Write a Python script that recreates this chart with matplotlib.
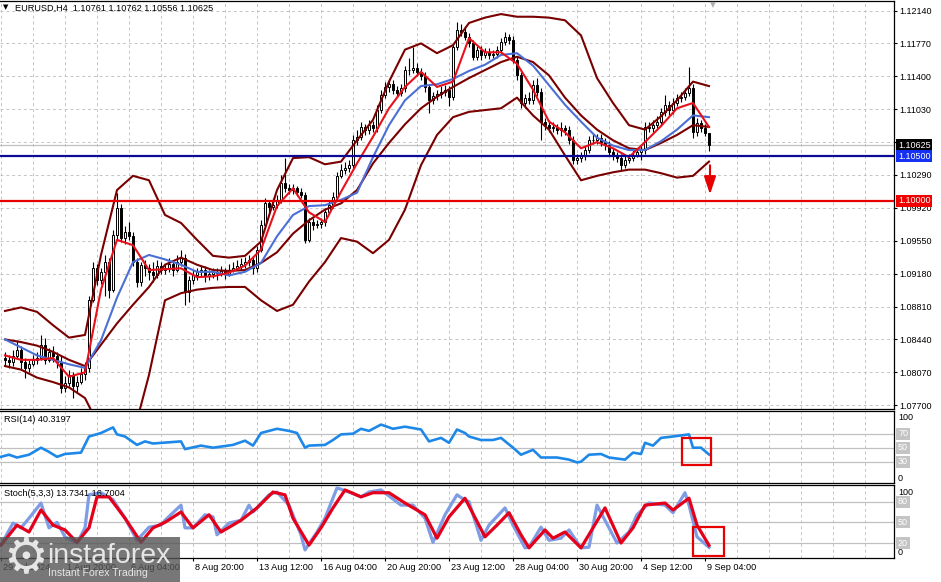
import numpy as np
import matplotlib
matplotlib.use("Agg")
from matplotlib import pyplot as plt
from matplotlib import transforms as mtransforms
from matplotlib.patches import Rectangle

plt.rcParams['font.family'] = ['Liberation Sans', 'DejaVu Sans']

# EURUSD H4 candles, 29 Jul - 9 Sep 2024 (open of each bar = previous close)
first_open = 1.08231
close = [
    1.08208, 1.08186, 1.08253, 1.08321, 1.08186, 1.08118, 1.08163, 1.08208, 1.08231, 1.08377,
    1.08208, 1.08298, 1.08253, 1.08186, 1.07893, 1.07949, 1.08039, 1.07916, 1.07961, 1.08051,
    1.08118, 1.08883, 1.09243, 1.09108, 1.09198, 1.09311, 1.08996, 1.09614, 1.09918, 1.09581,
    1.09648, 1.09603, 1.09311, 1.09086, 1.09277, 1.09243, 1.09198, 1.09164, 1.09266, 1.09221,
    1.09243, 1.09288, 1.09221, 1.09311, 1.09356, 1.08973, 1.09108, 1.09164, 1.09198, 1.09221,
    1.09153, 1.09176, 1.09198, 1.09187, 1.09209, 1.09176, 1.09221, 1.09243, 1.09266, 1.09288,
    1.09311, 1.09333, 1.09243, 1.09446, 1.09727, 1.09974, 1.09929, 1.09952, 1.10008, 1.10199,
    1.10143, 1.10121, 1.10143, 1.10098, 1.10064, 1.09558, 1.09761, 1.09727, 1.09738, 1.09761,
    1.09873, 1.09952, 1.10042, 1.10278, 1.10346, 1.10368, 1.10402, 1.10683, 1.10717, 1.10829,
    1.10796, 1.10852, 1.10818, 1.11021, 1.11189, 1.11279, 1.11313, 1.11246, 1.11212, 1.11268,
    1.11471, 1.11471, 1.11493, 1.11448, 1.11403, 1.11279, 1.11133, 1.11178, 1.11201, 1.11223,
    1.11246, 1.11167, 1.11729, 1.11921, 1.11898, 1.11842, 1.11774, 1.11617, 1.11696, 1.11639,
    1.11673, 1.11639, 1.11651, 1.11696, 1.11786, 1.11842, 1.11808, 1.11583, 1.11414, 1.11099,
    1.11156, 1.11133, 1.11302, 1.11223, 1.10886, 1.10852, 1.10818, 1.10829, 1.10796, 1.10818,
    1.10796, 1.10683, 1.10458, 1.10481, 1.10503, 1.10571, 1.10683, 1.10683, 1.10706, 1.10661,
    1.10627, 1.10548, 1.10503, 1.10481, 1.10402, 1.10458, 1.10481, 1.10514, 1.10548, 1.10571,
    1.10829, 1.10818, 1.10852, 1.10886, 1.10998, 1.11077, 1.11021, 1.11099, 1.11156, 1.11167,
    1.11212, 1.11268, 1.10773, 1.10874, 1.10818, 1.10761, 1.10625]
high = [
    1.08298, 1.08264, 1.08321, 1.08433, 1.08366, 1.08231, 1.08208, 1.08264, 1.08298, 1.08489,
    1.08456, 1.08343, 1.08366, 1.08298, 1.08264, 1.08028, 1.08096, 1.08073, 1.08028, 1.08118,
    1.08186, 1.08928, 1.09311, 1.09288, 1.09243, 1.09389, 1.09356, 1.09671, 1.10087, 1.09963,
    1.09716, 1.09761, 1.09648, 1.09356, 1.09311, 1.09333, 1.09288, 1.09311, 1.09333, 1.09311,
    1.09288, 1.09356, 1.09311, 1.09389, 1.09446, 1.09401, 1.09153, 1.09221, 1.09243, 1.09266,
    1.09266, 1.09221, 1.09243, 1.09243, 1.09266, 1.09243, 1.09288, 1.09311, 1.09333, 1.09356,
    1.09367, 1.09389, 1.09378, 1.09491, 1.09783, 1.10031, 1.10008, 1.10031, 1.10064, 1.10289,
    1.10481, 1.10188, 1.10188, 1.10166, 1.10143, 1.10098, 1.09806, 1.09806, 1.09783, 1.09806,
    1.09918, 1.10008, 1.10098, 1.10323, 1.10413, 1.10436, 1.10458, 1.10739, 1.10796, 1.10886,
    1.10863, 1.10908, 1.10897, 1.11077, 1.11246, 1.11336, 1.11358, 1.11358, 1.11291, 1.11313,
    1.11516, 1.11606, 1.11729, 1.11549, 1.11493, 1.11448, 1.11313, 1.11223, 1.11246, 1.11291,
    1.11302, 1.11291, 1.11763, 1.12011, 1.11988, 1.11966, 1.11887, 1.11808, 1.11741, 1.11741,
    1.11718, 1.11718, 1.11696, 1.11741, 1.11831, 1.11898, 1.11876, 1.11853, 1.11628, 1.11448,
    1.11201, 1.11223, 1.11358, 1.11381, 1.11268, 1.10931, 1.10908, 1.10886, 1.10863, 1.10886,
    1.10852, 1.10841, 1.10728, 1.10526, 1.10548, 1.10616, 1.10728, 1.10751, 1.10751, 1.10751,
    1.10706, 1.10672, 1.10593, 1.10548, 1.10526, 1.10503, 1.10526, 1.10571, 1.10593, 1.10627,
    1.10886, 1.10886, 1.10908, 1.10953, 1.11043, 1.11189, 1.11122, 1.11156, 1.11201, 1.11223,
    1.11268, 1.11504, 1.11313, 1.10931, 1.10908, 1.10863, 1.10762]
low = [
    1.08141, 1.08118, 1.08141, 1.08231, 1.08096, 1.08006, 1.08073, 1.08141, 1.08163, 1.08208,
    1.08163, 1.08186, 1.08186, 1.08118, 1.07837, 1.07848, 1.07916, 1.07781, 1.07848, 1.07938,
    1.07983, 1.08073, 1.08861, 1.09052, 1.09063, 1.08928, 1.08906, 1.08973, 1.09558, 1.09536,
    1.09513, 1.09558, 1.09266, 1.09029, 1.09041, 1.09153, 1.09108, 1.09086, 1.09131, 1.09176,
    1.09176, 1.09198, 1.09153, 1.09198, 1.09266, 1.08827, 1.08861, 1.09063, 1.09108, 1.09153,
    1.09086, 1.09108, 1.09131, 1.09108, 1.09153, 1.09119, 1.09153, 1.09198, 1.09221, 1.09221,
    1.09243, 1.09266, 1.09176, 1.09198, 1.09423, 1.09693, 1.09873, 1.09896, 1.09918, 1.09974,
    1.10098, 1.10076, 1.10076, 1.10053, 1.10031, 1.09524, 1.09536, 1.09671, 1.09693, 1.09693,
    1.09716, 1.09851, 1.09918, 1.10008, 1.10256, 1.10301, 1.10323, 1.10368, 1.10627, 1.10683,
    1.10739, 1.10751, 1.10773, 1.10773, 1.10987, 1.11156, 1.11223, 1.11201, 1.11167, 1.11178,
    1.11223, 1.11414, 1.11437, 1.11403, 1.11358, 1.11223, 1.10987, 1.11088, 1.11133, 1.11156,
    1.11178, 1.11066, 1.11133, 1.11696, 1.11853, 1.11808, 1.11729, 1.11583, 1.11583, 1.11583,
    1.11606, 1.11594, 1.11606, 1.11606, 1.11651, 1.11752, 1.11763, 1.11549, 1.11358, 1.11043,
    1.11043, 1.11088, 1.11088, 1.11178, 1.10683, 1.10796, 1.10773, 1.10773, 1.10751, 1.10728,
    1.10739, 1.10638, 1.10413, 1.10413, 1.10436, 1.10458, 1.10537, 1.10638, 1.10638, 1.10616,
    1.10571, 1.10503, 1.10458, 1.10436, 1.10346, 1.10368, 1.10424, 1.10447, 1.10492, 1.10458,
    1.10526, 1.10773, 1.10773, 1.10818, 1.10852, 1.10953, 1.10964, 1.10976, 1.11066, 1.11111,
    1.11133, 1.11178, 1.10706, 1.10728, 1.10773, 1.10728, 1.10556]

# indicator lines, read every 4th bar
ma_bars = list(range(0, 177, 4))
bb_upper = [
    1.0876, 1.0880, 1.0875, 1.0860, 1.0846, 1.0849, 1.0939, 1.1012, 1.1028, 1.1023,
    1.0984, 1.0975, 1.0956, 1.0938, 1.0936, 1.0938, 1.0954, 1.1012, 1.1048, 1.1049,
    1.1041, 1.1044, 1.1068, 1.1091, 1.1134, 1.1170, 1.1177, 1.1166, 1.1175, 1.1200,
    1.1206, 1.1210, 1.1207, 1.1207, 1.1206, 1.1203, 1.1186, 1.1138, 1.1110, 1.1085,
    1.1080, 1.1095, 1.1113, 1.1134, 1.1129]
bb_middle = [
    1.0844, 1.0841, 1.0837, 1.0830, 1.0821, 1.0814, 1.0838, 1.0862, 1.0883, 1.0903,
    1.0928, 1.0936, 1.0928, 1.0922, 1.0921, 1.0922, 1.0930, 1.0942, 1.0963, 1.0978,
    1.0990, 1.0997, 1.1012, 1.1042, 1.1065, 1.1086, 1.1104, 1.1117, 1.1128, 1.1138,
    1.1147, 1.1156, 1.1162, 1.1156, 1.1141, 1.1116, 1.1096, 1.1080, 1.1068, 1.1059,
    1.1057, 1.1065, 1.1074, 1.1085, 1.1083]
bb_lower = [
    1.0814, 1.0810, 1.0801, 1.0796, 1.0790, 1.0778, 1.0742, 1.0731, 1.0736, 1.0804,
    1.0888, 1.0896, 1.0900, 1.0902, 1.0903, 1.0903, 1.0888, 1.0876, 1.0883, 1.0909,
    1.0931, 1.0958, 1.0954, 1.0941, 1.0956, 1.0990, 1.1040, 1.1074, 1.1094, 1.1100,
    1.1102, 1.1104, 1.1116, 1.1096, 1.1080, 1.1051, 1.1023, 1.1028, 1.1032, 1.1035,
    1.1035, 1.1031, 1.1026, 1.1028, 1.1044]
ma_slow = [
    1.0844, 1.0835, 1.0826, 1.0821, 1.0816, 1.0812, 1.0843, 1.0891, 1.0931, 1.0939,
    1.0934, 1.0928, 1.0920, 1.0920, 1.0916, 1.0920, 1.0930, 1.0960, 1.0984, 1.0994,
    1.0995, 1.1001, 1.1009, 1.1049, 1.1085, 1.1113, 1.1129, 1.1131, 1.1137, 1.1146,
    1.1153, 1.1164, 1.1166, 1.1152, 1.1130, 1.1108, 1.1089, 1.1071, 1.1062, 1.1057,
    1.1057, 1.1067, 1.1080, 1.1096, 1.1094]
ma_fast = [
    1.0826, 1.0821, 1.0821, 1.0823, 1.0802, 1.0807, 1.0900, 1.0956, 1.0950, 1.0922,
    1.0923, 1.0924, 1.0914, 1.0915, 1.0919, 1.0927, 1.0945, 1.0994, 1.1014, 1.0987,
    1.0976, 1.1010, 1.1042, 1.1072, 1.1104, 1.1128, 1.1145, 1.1128, 1.1134, 1.1183,
    1.1167, 1.1167, 1.1154, 1.1125, 1.1089, 1.1077, 1.1059, 1.1066, 1.1059, 1.1049,
    1.1066, 1.1084, 1.1104, 1.1110, 1.1083]

rsi_bars = [-1, 1, 3, 6, 9, 11, 13, 15, 19, 21, 24, 27, 28, 30, 33, 35, 37, 44, 45, 49,
            52, 57, 60, 62, 64, 68, 71, 73, 75, 76, 80, 82, 84, 87, 89, 91, 94, 97, 100, 104,
            106, 109, 111, 113, 115, 116, 119, 122, 124, 127, 129, 132, 134, 138, 141, 143, 144, 146, 149, 151,
            155, 157, 159, 160, 162, 164, 167, 171, 172, 174, 176]
rsi_vals = [37, 40, 36, 40, 50, 44, 37, 41, 43, 66, 71, 79, 69, 66, 54, 59, 56, 59, 48, 53,
            50, 54, 60, 53, 71, 77, 74, 71, 50, 53, 54, 61, 69, 70, 77, 74, 83, 77, 80, 76,
            59, 64, 57, 76, 71, 66, 61, 61, 64, 50, 40, 47, 36, 36, 33, 29, 30, 40, 41, 36,
            33, 43, 41, 57, 53, 64, 66, 69, 50, 50, 40.32]

st_main_bars = [-1, 2, 4, 6, 9, 11, 13, 15, 18, 20, 21, 24, 27, 30, 33, 36, 39, 40, 44, 45,
                47, 50, 52, 53, 56, 59, 61, 62, 66, 68, 71, 74, 75, 78, 80, 83, 86, 89, 91, 94,
                99, 102, 105, 107, 110, 113, 115, 116, 119, 121, 125, 127, 130, 131, 134, 136, 139, 141, 144, 146,
                148, 151, 153, 156, 158, 161, 165, 167, 170, 171, 173, 176]
st_main = [17, 49, 42, 56, 78, 42, 50, 29, 20, 42, 90, 93, 83, 56, 24, 43, 46, 53, 75, 42,
           42, 61, 58, 32, 49, 53, 75, 65, 90, 94, 75, 32, 10, 36, 56, 100, 94, 87, 94, 97,
           75, 75, 56, 21, 61, 90, 82, 80, 24, 46, 71, 46, 13, 14, 43, 24, 27, 39, 13, 14,
           75, 42, 20, 36, 61, 78, 75, 64, 93, 75, 29, 13.73]
st_sig_bars = [-1, 3, 6, 9, 12, 15, 18, 21, 23, 26, 30, 34, 37, 40, 44, 47, 51, 54, 59, 63,
               67, 70, 72, 76, 79, 82, 85, 89, 92, 96, 100, 105, 108, 111, 115, 120, 123, 126, 129, 131,
               135, 137, 140, 144, 150, 154, 157, 160, 165, 167, 171, 173, 176]
st_sig = [17, 46, 36, 68, 46, 39, 21, 42, 87, 87, 56, 21, 42, 50, 65, 42, 61, 36, 53, 71,
          94, 90, 56, 17, 42, 71, 97, 87, 93, 93, 78, 61, 27, 58, 85, 29, 46, 64, 32, 13,
          39, 27, 36, 13, 71, 20, 42, 75, 78, 68, 85, 46, 16.70]

price_ticks = [1.07700, 1.08070, 1.08440, 1.08810, 1.09180, 1.09550, 1.09920,
               1.10290, 1.10660, 1.11030, 1.11400, 1.11770, 1.12140]
date_bars = [-1, 15, 31, 47, 63, 79, 95, 111, 127, 143, 159, 175]
date_labels = ["29 Jul 2024", "1 Aug 20:00", "6 Aug 04:00", "8 Aug 20:00", "13 Aug 12:00",
               "16 Aug 04:00", "20 Aug 20:00", "23 Aug 12:00", "28 Aug 04:00",
               "30 Aug 20:00", "4 Sep 12:00", "9 Sep 04:00"]
level_blue = 1.10500
level_red = 1.10000
last_price = 1.10625

W, H = 941, 582
BAR_LO, BAR_HI = -1.25, 222.25
GRID = '#c4c4c4'

fig = plt.figure(figsize=(W / 100, H / 100), dpi=100)
pix = mtransforms.Affine2D().scale(1, -1).translate(0, H)


def add_panel(top, bottom):
    a = fig.add_axes([0, 1 - bottom / H, 894 / W, (bottom - top) / H])
    for side in ('top', 'right', 'bottom'):
        a.spines[side].set_linewidth(0.9)
    a.spines['left'].set_visible(False)
    a.set_xticks([])
    a.set_yticks([])
    a.vlines(np.arange(-1, 222, 8), 0, 1, transform=a.get_xaxis_transform(),
             colors=GRID, linestyles=(0, (3, 3)), lw=0.7, zorder=0)
    a.set_xlim(BAR_LO, BAR_HI)
    return a


def right_label(a, y, s, box=None, color='black', va='center'):
    tr = mtransforms.blended_transform_factory(a.transAxes, a.transData)
    kw = {}
    if box:
        kw['bbox'] = dict(boxstyle='square,pad=0.18', facecolor=box, edgecolor='none')
    a.text(1.0045, y, s, transform=tr, ha='left', va=va, fontsize=6.5,
           color=color, clip_on=False, zorder=8, **kw)


# ---- price panel ----
ax = add_panel(1, 409)
ax.set_ylim(1.07657, 1.12247)
ax.hlines(price_ticks, BAR_LO, BAR_HI, colors=GRID, linestyles=(0, (3, 3)), lw=0.7, zorder=0)

c = np.array(close)
o = np.r_[first_open, c[:-1]]
bars = np.arange(len(c))
up = c >= o
ax.vlines(bars, low, high, color='black', lw=0.8, zorder=3)
ax.bar(bars[up], c[up] - o[up], bottom=o[up], width=0.62, facecolor='white',
       edgecolor='black', lw=0.7, zorder=4)
ax.bar(bars[~up], o[~up] - c[~up], bottom=c[~up], width=0.62, facecolor='black',
       edgecolor='black', lw=0.7, zorder=4)

for band in (bb_upper, bb_middle, bb_lower):
    ax.plot(ma_bars, band, color='#7a0000', lw=1.5, zorder=5)
ax.plot(ma_bars, ma_slow, color='#4a6fd6', lw=1.5, zorder=5)
ax.plot(ma_bars, ma_fast, color='#e8101a', lw=1.5, zorder=5)

ax.axhline(last_price, color='#c0c0c0', lw=0.9, zorder=2)
ax.axhline(level_blue, color='#0a0a96', lw=1.6, zorder=6)
ax.axhline(level_red, color='#e60000', lw=1.6, zorder=6)
ax.annotate('', xy=(176.25, 1.1004), xytext=(176.25, 1.1043),
            arrowprops=dict(arrowstyle='-|>,head_length=0.9,head_width=0.3',
                            color='#e60000', lw=1.5, mutation_scale=12), zorder=7)

ax.yaxis.tick_right()
ax.set_yticks(price_ticks)
ax.set_yticklabels([f'{p:.5f}' for p in price_ticks])
ax.tick_params(axis='y', length=2.5, width=0.8, pad=1.5, labelsize=6.5, direction='out')
ax.set_ylim(1.07657, 1.12247)
right_label(ax, last_price, '1.10625', box='black', color='white')
right_label(ax, level_blue, '1.10500', box='#1530f0', color='white')
right_label(ax, level_red, '1.10000', box='#f00000', color='white')

fig.text(6, 7, '\u25bc', transform=pix, fontsize=5, ha='center', va='center',
         family='DejaVu Sans')
fig.text(15, 8, 'EURUSD,H4  1.10761 1.10762 1.10556 1.10625', transform=pix,
         fontsize=6.6, va='center')
fig.text(713, 5, '\u25bc', transform=pix, fontsize=5.5, ha='center', va='center',
         color='#b0b0b0', family='DejaVu Sans')

# ---- RSI panel ----
ax_rsi = add_panel(411, 483)
ax_rsi.set_ylim(-0.4, 102.4)
for lvl in (30, 50, 70):
    ax_rsi.axhline(lvl, color='#c0c0c0', lw=0.9, zorder=1)
ax_rsi.plot(rsi_bars, rsi_vals, color='#1e88e8', lw=1.9, zorder=3)
ax_rsi.add_patch(Rectangle((169.25, 25.3), 7.25, 38.6, fill=False, edgecolor='#e60000',
                           lw=1.6, zorder=5, clip_on=False))
right_label(ax_rsi, 100, '100', va='top')
right_label(ax_rsi, 0, '0', va='bottom')
for lvl in (70, 50, 30):
    right_label(ax_rsi, lvl, str(lvl), box='#c4c4c4', color='white')
fig.text(4, 420, 'RSI(14) 40.3197', transform=pix, fontsize=6.6, va='center')

# ---- Stochastic panel ----
ax_st = add_panel(485, 558)
ax_st.set_ylim(-1.7, 104.2)
for lvl in (20, 50, 80):
    ax_st.axhline(lvl, color='#c0c0c0', lw=0.9, zorder=1)
ax_st.plot(st_main_bars, st_main, color='#7f9de4', lw=2.3, zorder=3)
ax_st.plot(st_sig_bars, st_sig, color='#e4001b', lw=2.3, zorder=4)
ax_st.add_patch(Rectangle((172, 1.2), 7.75, 42.1, fill=False, edgecolor='#e60000',
                          lw=1.6, zorder=5, clip_on=False))
right_label(ax_st, 100, '100', va='top')
right_label(ax_st, 0, '0', va='bottom')
for lvl in (80, 50, 20):
    right_label(ax_st, lvl, str(lvl), box='#c4c4c4', color='white')
fig.text(4, 494, 'Stoch(5,3,3) 13.7341 16.7004', transform=pix, fontsize=6.6, va='center')

ax_st.set_xticks(date_bars)
ax_st.tick_params(axis='x', length=2.5, width=0.8, labelbottom=False, direction='out')
ax_st.set_xlim(BAR_LO, BAR_HI)
date_tr = mtransforms.blended_transform_factory(ax_st.transData, pix)
for b, lab in zip(date_bars, date_labels):
    ax_st.text(b + 0.6, 568, lab, transform=date_tr, fontsize=6.6, ha='left', va='center',
               clip_on=False)

# ---- watermark ----
fig.add_artist(Rectangle((0, 537), 180, 45, transform=pix, facecolor='#555555',
                         alpha=0.8, edgecolor='none', zorder=10))
fig.text(26, 558, '\u2699', transform=pix, fontsize=36, ha='center', va='center',
         color='#e6e6e6', family='DejaVu Sans', zorder=11)
fig.text(47, 563, 'instaforex', transform=pix, fontsize=20.5, va='baseline',
         color='#e6e6e6', zorder=11)
fig.text(48, 573, 'Instant Forex Trading', transform=pix, fontsize=7.6, va='center',
         color='#e6e6e6', zorder=11)

fig.savefig('out.png', dpi=100)
